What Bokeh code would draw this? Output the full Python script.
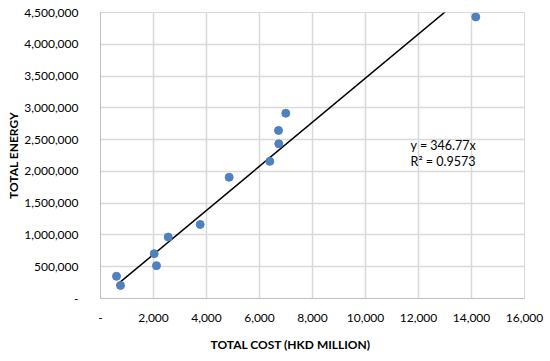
from bokeh.plotting import figure
from bokeh.models import ColumnDataSource, FixedTicker, NumeralTickFormatter, Range1d, Label, Title
from bokeh.embed import file_html
from bokeh.resources import INLINE

cost = [604, 755, 2026, 2113, 2555, 3762, 4855, 6389, 6728, 6717, 6992, 14162]
energy = [350000, 205000, 705000, 517000, 967000, 1165000, 1907000, 2158000, 2434000, 2644000, 2915000, 4431000]
slope = 346.77
r2 = 0.9573
x_ticks = [0, 2000, 4000, 6000, 8000, 10000, 12000, 14000, 16000]
y_ticks = [0, 500000, 1000000, 1500000, 2000000, 2500000, 3000000, 3500000, 4000000, 4500000]

FONT = "Lato"
GRID = "#d9d9d9"

p = figure(width=550, height=361, output_backend="svg", toolbar_location=None,
           x_range=Range1d(0, 16000), y_range=Range1d(0, 4500000),
           min_border_left=100, min_border_right=26, min_border_top=12, min_border_bottom=62)
p.outline_line_color = GRID
p.background_fill_color = "white"
p.border_fill_color = "white"

for ax in (p.xaxis[0], p.yaxis[0]):
    ax.major_tick_line_color = None
    ax.minor_tick_line_color = None
    ax.axis_line_color = "#bfbfbf"
    ax.major_label_text_font = FONT
    ax.major_label_text_font_size = "12px"
    ax.major_label_text_color = "#000000"
    ax.axis_label_text_font = FONT
    ax.axis_label_text_font_style = "bold"
    ax.axis_label_text_font_size = "12px"
    ax.axis_label_text_color = "#000000"

p.xaxis.ticker = FixedTicker(ticks=x_ticks)
p.yaxis.ticker = FixedTicker(ticks=y_ticks)
p.xaxis.formatter = NumeralTickFormatter(format="0,0")
p.yaxis.formatter = NumeralTickFormatter(format="0,0")
p.xaxis.major_label_overrides = {0: "-"}
p.yaxis.major_label_overrides = {0: "-"}
p.xaxis.major_label_standoff = 9
p.yaxis.major_label_standoff = 16
p.yaxis.axis_label = "TOTAL ENERGY"
p.yaxis.axis_label_standoff = 0

p.xgrid.ticker = FixedTicker(ticks=x_ticks)
p.ygrid.ticker = FixedTicker(ticks=y_ticks)
p.xgrid.grid_line_color = GRID
p.ygrid.grid_line_color = GRID
p.xgrid.grid_line_width = 1.5
p.ygrid.grid_line_width = 1.5

src = ColumnDataSource(dict(x=cost, y=energy))
xmin, xmax = min(cost), max(cost)
p.line([xmin, xmax], [slope * xmin, slope * xmax], line_color="black", line_width=1.5)
p.scatter("x", "y", source=src, size=8, fill_color="#4f81bd", line_color="#4f81bd")

p.add_layout(Label(x=11700, y=2403000, text="y = 346.77x", text_font=FONT, text_font_size="12.5px",
                   text_baseline="middle", text_color="#000000"))
p.add_layout(Label(x=11700, y=2152000, text="R² = 0.9573", text_font=FONT, text_font_size="12.5px",
                   text_baseline="middle", text_color="#000000"))

t = Title(text="TOTAL COST (HKD MILLION)", align="left", offset=110, text_font=FONT,
          text_font_style="bold", text_font_size="12px", text_color="#000000", standoff=20)
p.add_layout(t, "below")

open("out.html", "w").write(file_html(p, INLINE))
